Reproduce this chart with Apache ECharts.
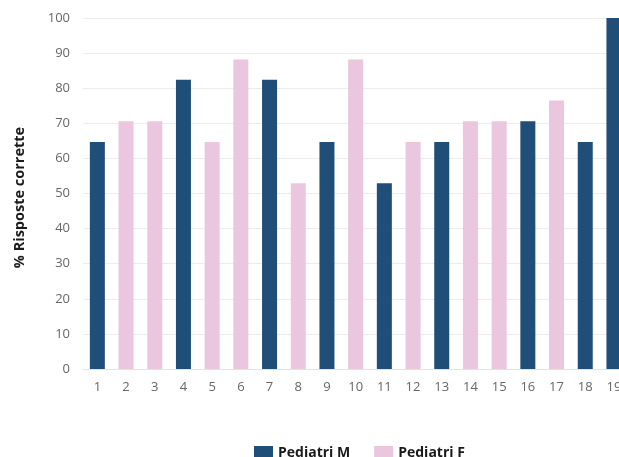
<!DOCTYPE html>
<html>
<head>
<meta charset="utf-8">
<script src="https://cdn.jsdelivr.net/npm/echarts@6/dist/echarts.min.js"></script>
<style>
  html, body { margin: 0; padding: 0; background: #fff; overflow: hidden; }
  #chart { width: 619px; height: 457px; }
</style>
</head>
<body>
<div id="chart"></div>
<script>
// Question numbers along the x axis
const categories = ['1','2','3','4','5','6','7','8','9','10','11','12','13','14','15','16','17','18','19'];
// Percentage of correct answers, male paediatricians ('-' where the question belongs to the other group)
const valuesM = [64.7,'-','-',82.4,'-','-',82.4,'-',64.7,'-',52.9,'-',64.7,'-','-',70.6,'-',64.7,100];
// Percentage of correct answers, female paediatricians
const valuesF = ['-',70.6,70.6,'-',64.7,88.2,'-',52.9,'-',88.2,'-',64.7,'-',70.6,70.6,'-',76.5,'-','-'];
const yTicks = { min: 0, max: 100, interval: 10 };

const chart = echarts.init(document.getElementById('chart'));
const font = '"Open Sans", Lato, sans-serif';

chart.setOption({
  animation: false,
  textStyle: { fontFamily: font },
  // the plot runs past the right edge of the canvas, so the last bar is cut off
  grid: {
    left: 83, top: 18, width: 545.3, height: 351,
    containLabel: false,
    outerBoundsMode: 'none'
  },
  legend: {
    left: 249,
    top: 441,
    itemWidth: 19,
    itemHeight: 15,
    itemGap: 24,
    icon: 'rect',
    textStyle: { fontFamily: font, fontSize: 14, fontWeight: 'bold', color: '#1a1a1a' },
    data: ['Pediatri M', 'Pediatri F']
  },
  xAxis: {
    type: 'category',
    data: categories,
    axisLine: { lineStyle: { color: '#e3e3e3' } },
    axisTick: { show: false },
    axisLabel: { color: '#666', fontSize: 13, margin: 12, fontFamily: font }
  },
  yAxis: {
    type: 'value',
    min: yTicks.min,
    max: yTicks.max,
    interval: yTicks.interval,
    name: '% Risposte corrette',
    nameLocation: 'middle',
    nameGap: 56,
    nameTextStyle: {
      fontSize: 14.5, fontWeight: 'bold', color: '#1a1a1a', fontFamily: font,
      padding: [0, 8, 0, 0]
    },
    axisLine: { show: false },
    axisTick: { show: false },
    axisLabel: { color: '#666', fontSize: 13, margin: 13, fontFamily: font },
    splitLine: { lineStyle: { color: '#ececec' } }
  },
  series: [
    {
      name: 'Pediatri M',
      type: 'bar',
      stack: 'g',
      barWidth: 15,
      itemStyle: { color: '#1f4e79' },
      data: valuesM
    },
    {
      name: 'Pediatri F',
      type: 'bar',
      stack: 'g',
      barWidth: 15,
      itemStyle: { color: '#ebc6df' },
      data: valuesF
    }
  ]
});
</script>
</body>
</html>
